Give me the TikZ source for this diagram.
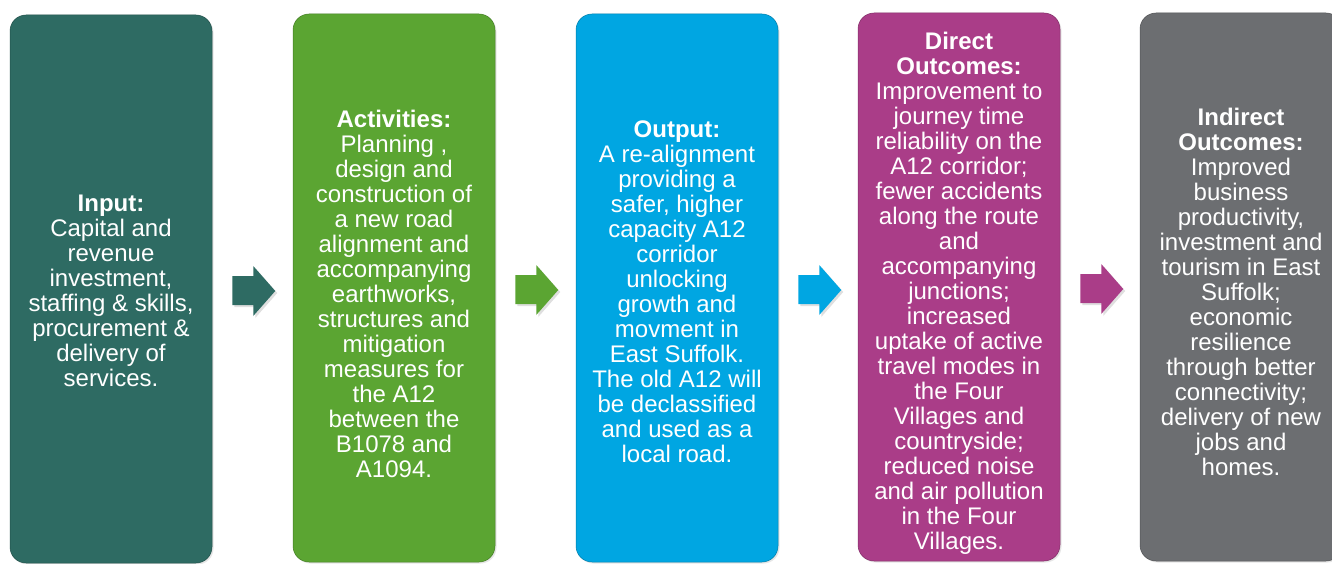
\documentclass[tikz,border=0pt]{standalone}
\usepackage{fontspec}
\setmainfont{Liberation Sans}
\usetikzlibrary{shadows}

\definecolor{stageteal}{HTML}{2E6B63}
\definecolor{stagegreen}{HTML}{5BA532}
\definecolor{stageblue}{HTML}{00A6E2}
\definecolor{stagemagenta}{HTML}{AA3D88}
\definecolor{stagegrey}{HTML}{6C6E71}

% block arrow placed to the right of a stage box
\newcommand\flowarrow[2]{%
  \begin{scope}[shift={(#2.east)}]
    \fill[#1, drop shadow={shadow xshift=2pt,shadow yshift=-2pt,opacity=0.25}]
      (20,-13) -- (41,-13) -- (41,-23) -- (63,2) -- (41,27) -- (41,16) -- (20,16) -- cycle;
  \end{scope}}

\begin{document}
\begin{tikzpicture}[x=1pt,y=-1pt,
  stage/.style={rounded corners=16pt, minimum width=202pt, minimum height=548pt,
    inner sep=0pt, draw=#1!75!black, line width=0.5pt, fill=#1,
    drop shadow={shadow xshift=1.5pt,shadow yshift=-1.5pt,opacity=0.2}},
  stagetext/.style={inner sep=0pt, text=white, align=center,
    font=\fontsize{24}{25}\selectfont}]
\useasboundingbox (0,0) rectangle (1332,564);

\node[stage=stageteal, label={[stagetext, yshift=-2pt]center:{{\bfseries Input:}\\Capital and\\revenue\\investment,\\staffing \& skills,\\procurement \&\\delivery of\\services.}}] (input) at (111,289) {};

\node[stage=stagegreen, label={[stagetext, yshift=-6pt]center:{{\bfseries Activities:}\\Planning ,\\design and\\construction of\\a new road\\alignment and\\accompanying\\earthworks,\\structures and\\mitigation\\measures for\\the A12\\between the\\B1078 and\\A1094.}}] (activities) at (394,288) {};

\node[stage=stageblue, label={[stagetext, yshift=-4pt]center:{{\bfseries Output:}\\A re-alignment\\providing a\\safer, higher\\capacity A12\\corridor\\unlocking\\growth and\\movment in\\East Suffolk.\\The old A12 will\\be declassified\\and used as a\\local road.}}] (output) at (677,288) {};

\node[stage=stagemagenta, label={[stagetext, yshift=-6pt]center:{{\bfseries Direct}\\{\bfseries Outcomes:}\\Improvement to\\journey time\\reliability on the\\A12 corridor;\\fewer accidents\\along the route\\and\\accompanying\\junctions;\\increased\\uptake of active\\travel modes in\\the Four\\Villages and\\countryside;\\reduced noise\\and air pollution\\in the Four\\Villages.}}] (direct) at (959,287) {};

\node[stage=stagegrey, label={[stagetext, yshift=-5pt]center:{{\bfseries Indirect}\\{\bfseries Outcomes:}\\Improved\\business\\productivity,\\investment and\\tourism in East\\Suffolk;\\economic\\resilience\\through better\\connectivity;\\delivery of new\\jobs and\\homes.}}] (indirect) at (1241,287) {};

\flowarrow{stageteal}{input}
\flowarrow{stagegreen}{activities}
\flowarrow{stageblue}{output}
\flowarrow{stagemagenta}{direct}
\end{tikzpicture}
\end{document}
